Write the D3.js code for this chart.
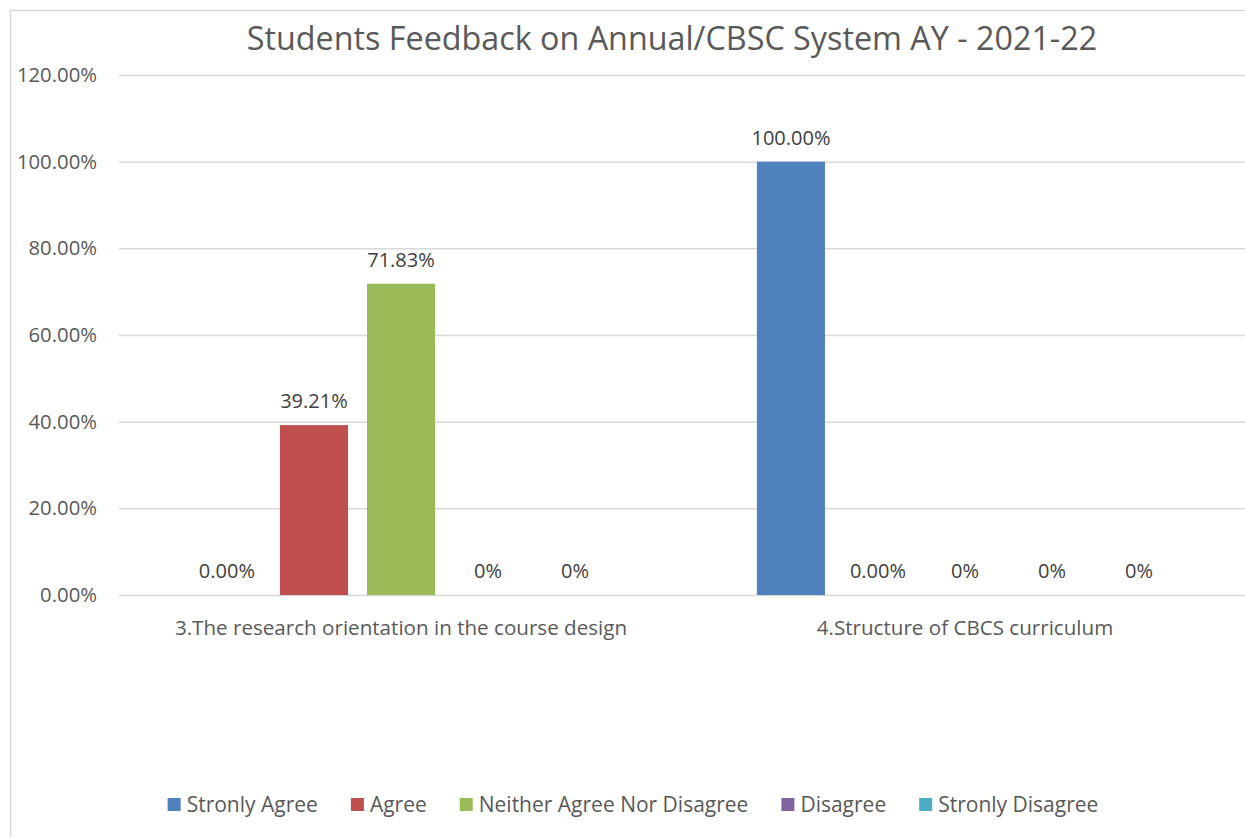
<!DOCTYPE html>
<html>
<head>
<meta charset="utf-8">
<script src="https://cdn.jsdelivr.net/npm/d3@7"></script>
<style>
  body { margin: 0; background: #fff; }
  text { font-family: "Open Sans", sans-serif; }
</style>
</head>
<body>
<div id="chart"></div>
<script>
var categories = ["3.The research orientation in the course design", "4.Structure of CBCS curriculum"];
var seriesNames = ["Stronly Agree", "Agree", "Neither Agree Nor Disagree", "Disagree", "Stronly Disagree"];
var colors = ["#4F81BD", "#C0504D", "#9BBB59", "#8064A2", "#4BACC6"];
// values per category, one per series (in %)
var research = [0, 39.21, 71.83, 0, 0];
var structure = [100, 0, 0, 0, 0];
var labelsResearch = ["0.00%", "39.21%", "71.83%", "0%", "0%"];
var labelsStructure = ["100.00%", "0.00%", "0%", "0%", "0%"];
var yTicks = [0, 20, 40, 60, 80, 100, 120];

var rows = [
  {cat: categories[0], values: research, labels: labelsResearch},
  {cat: categories[1], values: structure, labels: labelsStructure}
];

var width = 1245, height = 837;
var svg = d3.select('#chart').append('svg')
  .attr('width', width)
  .attr('height', height);

// chart frame
svg.append('rect')
  .attr('x', 10.5).attr('y', 10.5)
  .attr('width', 1400).attr('height', 1000)
  .attr('fill', 'none')
  .attr('stroke', '#D9D9D9')
  .attr('stroke-width', 1.5);

svg.append('text')
  .attr('x', 672).attr('y', 50)
  .attr('text-anchor', 'middle')
  .attr('font-size', 32.3)
  .attr('fill', '#595959')
  .text('Students Feedback on Annual/CBSC System AY - 2021-22');

var plotLeft = 119, plotRight = 1247, plotTop = 75, plotBottom = 595;

var y = d3.scaleLinear().domain([0, 120]).range([plotBottom, plotTop]);
var x0 = d3.scaleBand().domain(categories).range([plotLeft, plotRight]).paddingInner(0.262).paddingOuter(0.131);
var x1 = d3.scaleBand().domain(seriesNames).range([0, x0.bandwidth()]).paddingInner(0.218).paddingOuter(0);

var yAxis = d3.axisLeft(y).tickValues(yTicks)
  .tickSize(-(plotRight - plotLeft))
  .tickFormat(function(d) { return d3.format('.2f')(d) + '%'; });

var gy = svg.append('g').attr('transform', 'translate(' + plotLeft + ',0)').call(yAxis);
gy.select('.domain').remove();
gy.selectAll('.tick line').attr('stroke', '#D9D9D9').attr('stroke-width', 1.5);
gy.selectAll('.tick text')
  .attr('x', -22)
  .attr('font-size', 20.3)
  .attr('font-family', '"Open Sans", sans-serif')
  .attr('fill', '#595959');

var groups = svg.selectAll('g.group')
  .data(rows)
  .enter()
  .append('g')
  .attr('class', 'group')
  .attr('transform', function(d) { return 'translate(' + x0(d.cat) + ',0)'; });

groups.selectAll('rect')
  .data(function(d) { return d.values.map(function(v, i) { return {name: seriesNames[i], value: v, label: d.labels[i], color: colors[i]}; }); })
  .enter()
  .append('rect')
  .attr('x', function(d) { return x1(d.name); })
  .attr('y', function(d) { return y(d.value); })
  .attr('width', x1.bandwidth())
  .attr('height', function(d) { return plotBottom - y(d.value); })
  .attr('fill', function(d) { return d.color; });

groups.selectAll('text.val')
  .data(function(d) { return d.values.map(function(v, i) { return {name: seriesNames[i], value: v, label: d.labels[i]}; }); })
  .enter()
  .append('text')
  .attr('class', 'val')
  .attr('x', function(d) { return x1(d.name) + x1.bandwidth() / 2; })
  .attr('y', function(d) { return y(d.value) - 17; })
  .attr('text-anchor', 'middle')
  .attr('font-size', 20)
  .attr('fill', '#404040')
  .text(function(d) { return d.label; });

svg.selectAll('text.cat')
  .data(categories)
  .enter()
  .append('text')
  .attr('class', 'cat')
  .attr('x', function(d) { return x0(d) + x0.bandwidth() / 2; })
  .attr('y', 635)
  .attr('text-anchor', 'middle')
  .attr('font-size', 20.6)
  .attr('fill', '#595959')
  .text(function(d) { return d; });

// legend
var legend = svg.append('g');
var items = legend.selectAll('g')
  .data(seriesNames)
  .enter()
  .append('g');
items.append('rect')
  .attr('width', 13).attr('height', 13)
  .attr('y', -14)
  .attr('fill', function(d, i) { return colors[i]; });
items.append('text')
  .attr('x', 19)
  .attr('font-size', 21)
  .attr('fill', '#595959')
  .text(function(d) { return d; });

var pos = 0, gap = 33;
items.each(function() {
  var w = this.getBBox().width;
  d3.select(this).attr('transform', 'translate(' + pos + ',0)');
  pos += w + gap;
});
var total = pos - gap;
legend.attr('transform', 'translate(' + (633 - total / 2) + ',812)');
</script>
</body>
</html>
